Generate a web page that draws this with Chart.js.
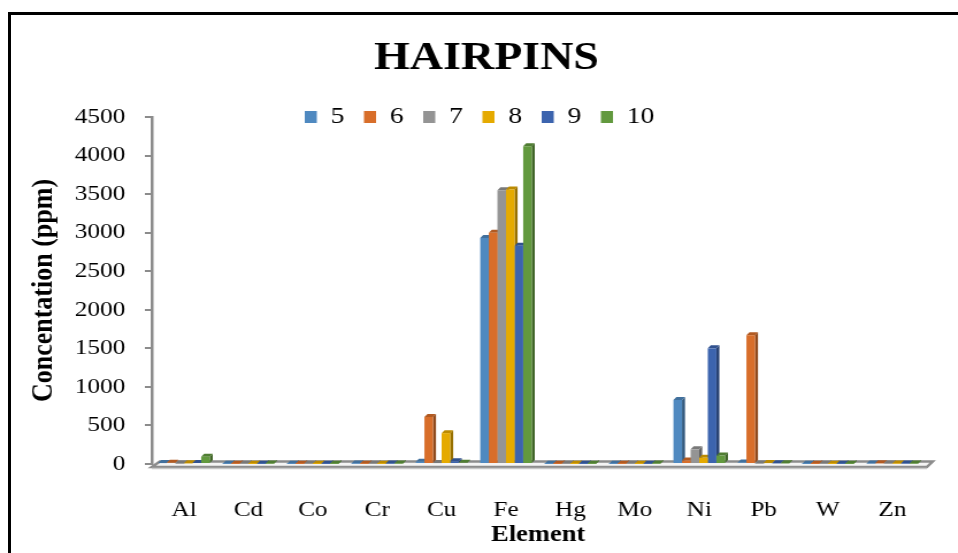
<!DOCTYPE html>
<html>
<head>
<meta charset="utf-8">
<script src="https://cdn.jsdelivr.net/npm/chart.js@4.4.1/dist/chart.umd.min.js"></script>
<style>
  html, body { margin: 0; padding: 0; background: #fff; overflow: hidden; }
  body { width: 958px; height: 553px; position: relative; }
  #frame {
    position: absolute; left: 8px; top: 12px; width: 1000px; height: 600px;
    border-left: 3px solid #000; border-top: 3px solid #000;
  }
  #wrap {
    position: absolute; left: 0; top: 0; width: 833px; height: 553px;
    transform: scaleX(1.15); transform-origin: 0 0;
  }
</style>
</head>
<body>
<div id="frame"></div>
<div id="wrap"><canvas id="chart"></canvas></div>
<script>
// Element concentrations (ppm) for hairpin samples 5–10
const elements = ['Al', 'Cd', 'Co', 'Cr', 'Cu', 'Fe', 'Hg', 'Mo', 'Ni', 'Pb', 'W', 'Zn'];
const sampleNames = ['5', '6', '7', '8', '9', '10'];
const sample5  = [12, 4, 3, 5, 30, 2930, 3, 4, 830, 20, 3, 8];
const sample6  = [15, 3, 2, 4, 610, 3000, 2, 3, 45, 1670, 2, 10];
const sample7  = [6, 2, 2, 3, 12, 3550, 2, 2, 190, 8, 2, 5];
const sample8  = [10, 3, 2, 4, 400, 3560, 3, 3, 80, 12, 3, 6];
const sample9  = [14, 4, 3, 5, 35, 2830, 3, 4, 1500, 10, 4, 7];
const sample10 = [95, 5, 4, 6, 15, 4120, 4, 5, 110, 9, 3, 6];
const yTicks = [0, 500, 1000, 1500, 2000, 2500, 3000, 3500, 4000, 4500];

const seriesValues = [sample5, sample6, sample7, sample8, sample9, sample10];
const fillColors = ['#4F89C0', '#D86E2A', '#949494', '#E5AA00', '#3C64AE', '#62993E'];

function shade(hex, f) {
  const n = parseInt(hex.slice(1), 16);
  const r = Math.round(((n >> 16) & 255) * f);
  const g = Math.round(((n >> 8) & 255) * f);
  const b = Math.round((n & 255) * f);
  return `rgb(${r},${g},${b})`;
}

const FONT = "'Liberation Serif', 'Times New Roman', serif";
const AXIS_GRAY = '#8c8c8c';
const DX = 2.6, DY = 3;   // depth offset of the pseudo-3D faces

function poly(ctx, pts, fill) {
  ctx.beginPath();
  ctx.moveTo(pts[0][0], pts[0][1]);
  for (let i = 1; i < pts.length; i++) ctx.lineTo(pts[i][0], pts[i][1]);
  ctx.closePath();
  ctx.fillStyle = fill;
  ctx.fill();
}

// Floor slab plus side/top faces of every bar, painted under the bar fronts
const depthFaces = {
  id: 'depthFaces',
  beforeDatasetsDraw(chart) {
    const ctx = chart.ctx;
    const area = chart.chartArea;
    const y0 = chart.scales.y.getPixelForValue(0);
    ctx.save();
    // floor
    const fl = area.left, fr = area.right + 2;
    const bl = area.left + 7, br = area.right + 7;
    const fy = y0 + 3, by = y0 - 2.5;
    ctx.beginPath();
    ctx.moveTo(fl, fy); ctx.lineTo(fr, fy); ctx.lineTo(br, by); ctx.lineTo(bl, by); ctx.closePath();
    ctx.fillStyle = '#f4f4f4';
    ctx.fill();
    ctx.lineWidth = 2.5;
    ctx.strokeStyle = AXIS_GRAY;
    ctx.stroke();
    ctx.beginPath();
    ctx.moveTo(fl, fy + 1.5); ctx.lineTo(fr, fy + 1.5);
    ctx.strokeStyle = '#c8c8c8';
    ctx.lineWidth = 1.5;
    ctx.stroke();
    // faces
    chart.data.datasets.forEach((ds, i) => {
      const meta = chart.getDatasetMeta(i);
      const sideCol = shade(fillColors[i], 0.66);
      const topCol = shade(fillColors[i], 0.82);
      meta.data.forEach(bar => {
        const {x, y, base, width} = bar.getProps(['x', 'y', 'base', 'width'], true);
        const l = x - width / 2, r = x + width / 2;
        poly(ctx, [[r, y], [r + DX, y - DY], [r + DX, base - DY], [r, base]], sideCol);
        poly(ctx, [[l, y], [l + DX, y - DY], [r + DX, y - DY], [r, y]], topCol);
      });
    });
    ctx.restore();
  }
};

// Legend overlaps the top of the plot region; title nudged right
const headerPlacement = {
  id: 'headerPlacement',
  afterLayout(chart) {
    const lg = chart.legend;
    if (lg) {
      const pad = lg.options.labels.padding;
      const w = lg.right - lg.left;
      const h = lg.bottom - lg.top;
      lg.left = 265 - pad;
      lg.right = lg.left + w;
      lg.top = 88;
      lg.bottom = lg.top + h;
    }
    const tb = chart.titleBlock;
    if (tb) {
      tb.left += 16;
      tb.right += 16;
    }
  }
};

Chart.defaults.color = '#000';
Chart.defaults.font.family = FONT;

new Chart(document.getElementById('chart'), {
  type: 'bar',
  data: {
    labels: elements,
    datasets: seriesValues.map((vals, i) => ({
      label: sampleNames[i],
      data: vals,
      backgroundColor: fillColors[i],
      borderWidth: 0,
      categoryPercentage: 0.8,
      barPercentage: 1.0
    }))
  },
  options: {
    responsive: true,
    maintainAspectRatio: false,
    animation: false,
    layout: { padding: { left: 10, right: 29, top: 0, bottom: 0 } },
    plugins: {
      title: {
        display: true,
        text: 'HAIRPINS',
        color: '#000',
        font: { family: FONT, size: 40, weight: 'bold' },
        padding: { top: 35, bottom: -17 }
      },
      legend: {
        position: 'top',
        align: 'start',
        labels: {
          boxWidth: 10.5,
          boxHeight: 12,
          padding: 17,
          color: '#000',
          font: { family: FONT, size: 24 }
        }
      },
      tooltip: { enabled: false }
    },
    scales: {
      x: {
        grid: { display: false, drawTicks: false },
        border: { display: false },
        ticks: { padding: 33, font: { family: FONT, size: 22 }, color: '#000' },
        title: {
          display: true,
          text: 'Element',
          color: '#000',
          font: { family: FONT, size: 23, weight: 'bold' },
          padding: { top: 0, bottom: 4 }
        },
        afterFit(scale) { scale.height = 89; }
      },
      y: {
        min: 0,
        max: 4500,
        afterBuildTicks(scale) { scale.ticks = yTicks.map(v => ({ value: v })); },
        grid: { drawOnChartArea: false, drawTicks: true, tickLength: 6, color: AXIS_GRAY, lineWidth: 2 },
        border: { display: true, color: AXIS_GRAY, width: 2.5 },
        ticks: {
          padding: 17,
          font: { family: FONT, size: 22 },
          color: '#000',
          callback: (v) => String(v)
        },
        title: {
          display: true,
          text: 'Concentation (ppm)',
          color: '#000',
          font: { family: FONT, size: 26, weight: 'bold' },
          padding: { top: 13, bottom: 0 }
        },
        afterFit(scale) { scale.width = 122; }
      }
    }
  },
  plugins: [depthFaces, headerPlacement]
});
</script>
</body>
</html>
